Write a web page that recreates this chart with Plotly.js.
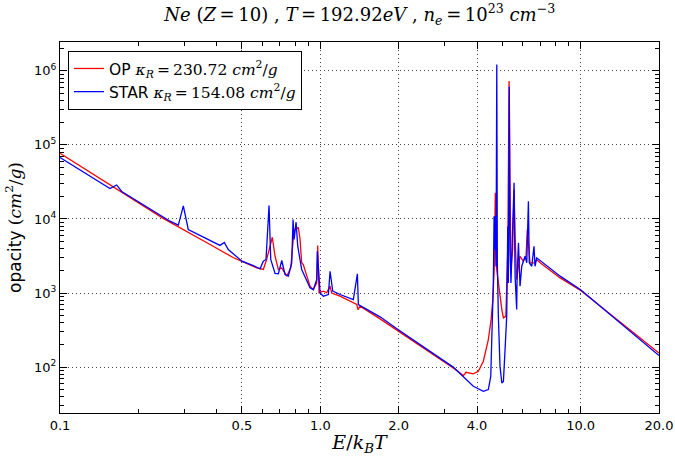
<!DOCTYPE html>
<html>
<head>
<meta charset="utf-8">
<script src="https://cdn.plot.ly/plotly-3.0.1.min.js"></script>
<style>html,body{margin:0;padding:0;background:#fff;}#chart{width:675px;height:461px;}</style>
</head>
<body>
<div id="chart"></div>
<script>
// OP opacity (cm^2/g) vs E/kT
const opE = [0.1,0.1556,0.249,0.377,0.462,0.500,0.570,0.604,0.622,0.654,0.670,0.690,0.711,0.743,0.770,0.783,0.793,0.807,0.823,0.836,0.848,0.860,0.887,0.913,0.940,0.969,0.977,0.989,1.027,1.058,1.090,1.106,1.190,1.380,1.396,1.421,1.696,2.0,3.24,3.543,3.628,3.87,4.046,4.229,4.42,4.53,4.60,4.66,4.70,4.745,4.83,4.98,5.05,5.16,5.25,5.31,5.355,5.40,5.48,5.55,5.60,5.68,5.765,5.85,6.02,6.17,6.24,6.30,6.39,6.68,6.78,6.99,8.34,10,20];
const opK = [77000,29200,10200,4520,3020,2670,2190,2080,2840,5670,3140,2080,2190,1690,2190,4290,7210,7200,7740,5280,2560,2430,1690,1240,1110,1370,4380,1010,1060,1010,1240,1000,906,700,598,663,448,305,97.5,76.8,85,81,87.7,120,235,438,817,2300,22600,2300,1370,598,462,485,3870,728000,30800,2080,3870,25000,5860,1520,2300,3140,2690,3140,7200,4520,2560,2560,2840,2560,1600,1080,155];
// STAR opacity
const starE = [0.1,0.1556,0.165,0.1726,0.2647,0.2848,0.2977,0.311,0.4118,0.4278,0.443,0.500,0.553,0.5867,0.604,0.6185,0.6353,0.645,0.670,0.690,0.711,0.7318,0.7537,0.7766,0.7857,0.793,0.807,0.819,0.848,0.913,0.940,0.969,0.974,0.998,1.027,1.074,1.090,1.116,1.19,1.339,1.388,1.40,1.696,2.0,3.24,3.87,4.229,4.42,4.516,4.556,4.62,4.65,4.68,4.70,4.733,4.763,4.786,4.83,4.90,4.98,5.05,5.125,5.20,5.25,5.275,5.32,5.355,5.40,5.55,5.60,5.68,5.70,5.77,5.85,5.94,6.115,6.21,6.30,6.35,6.49,6.62,6.68,6.78,8.34,10,20];
const starK = [67800,25800,28800,23500,9330,8250,15000,7210,4400,4810,3870,2690,2350,2120,2690,2840,15200,2840,1840,1820,2750,1780,1690,2560,9850,5280,9050,4290,2080,1180,1110,1520,3670,1000,906,955,1970,1060,955,817,1820,700,477,316,100,55,47,49.7,75,212,1370,10900,3870,10900,2300,1220000,2560,485,103,61,64,172,485,8000,1370,610000,3870,1370,30800,1690,598,1690,4770,1240,2300,3140,2560,17400,2560,2300,4290,2300,2990,1690,1110,143];
const xTickVals = [0.1,0.5,1,2,4,10,20];
const xTickText = ['0.1','0.5','1.0','2.0','4.0','10.0','20.0'];
const yTickVals = [1e2,1e3,1e4,1e5,1e6];
const yTickText = ['10<sup>2</sup>','10<sup>3</sup>','10<sup>4</sup>','10<sup>5</sup>','10<sup>6</sup>'];
const xMinor = [0.2,0.3,0.4,0.6,0.7,0.8,0.9,3,5,6,7,8,9];
const yMinor = [];
[10,100,1000,10000,100000,1000000].forEach(d=>{for(let k=2;k<=9;k++){yMinor.push(k*d);}});

const SERIF = 'DejaVu Serif';
const TS = '\u2009';
const mathSpan = s => '<span style="font-family:' + SERIF + '">' + s + '</span>';

const traces = [
  {x: opE, y: opK, type:'scatter', mode:'lines', name: 'OP ' + mathSpan('<i>κ<sub>R</sub></i>' + TS + '=' + TS + '230.72 <i>cm</i><sup>2</sup>/<i>g</i>'),
   line:{color:'#ff0000', width:1.3}},
  {x: starE, y: starK, type:'scatter', mode:'lines', name: 'STAR ' + mathSpan('<i>κ<sub>R</sub></i>' + TS + '=' + TS + '154.08 <i>cm</i><sup>2</sup>/<i>g</i>'),
   line:{color:'#0000ff', width:1.3}}
];

const axisCommon = {
  showline:true, linecolor:'#000', linewidth:1, mirror:'ticks',
  ticks:'inside', ticklen:7, tickcolor:'#000', tickwidth:1,
  showgrid:true, gridcolor:'#444', gridwidth:1, griddash:'1px,3px',
  zeroline:false,
  tickfont:{family:'DejaVu Sans', size:13, color:'#000'}
};

const layout = {
  width:675, height:461,
  margin:{l:60, r:16, t:42, b:48},
  paper_bgcolor:'#fff', plot_bgcolor:'#fff',
  showlegend:true, hovermode:false,
  title:{text:'<i>Ne</i> (<i>Z</i>' + TS + '=' + TS + '10) , <i>T</i>' + TS + '=' + TS + '192.92<i>eV</i> , <i>n<sub>e</sub></i>' + TS + '=' + TS + '10<sup>23</sup> <i>cm</i><sup>−3</sup>',
    font:{family:SERIF, size:18, color:'#000'}, x:0.533, xanchor:'center', y:0.968, yanchor:'middle'},
  xaxis: Object.assign({}, axisCommon, {
    type:'log', range:[-1, Math.log10(20)],
    tickmode:'array', tickvals:xTickVals, ticktext:xTickText,
    minor:{tickmode:'array', tickvals:xMinor, ticks:'inside', ticklen:4, tickcolor:'#000', showgrid:false},
    title:{text:'<i>E</i>/<i>k<sub>B</sub>T</i>', font:{family:SERIF, size:19, color:'#000'}, standoff:4}
  }),
  yaxis: Object.assign({}, axisCommon, {
    type:'log', range:[1.38, 6.39],
    tickmode:'array', tickvals:yTickVals, ticktext:yTickText,
    minor:{tickmode:'array', tickvals:yMinor, ticks:'inside', ticklen:4, tickcolor:'#000', showgrid:false},
    title:{text:'opacity ' + mathSpan('(<i>cm</i><sup>2</sup>/<i>g</i>)'), font:{family:'DejaVu Sans', size:17, color:'#000'}, standoff:8}
  }),
  legend:{x:0.0134, y:0.976, xanchor:'left', yanchor:'top', bgcolor:'#fff', bordercolor:'#000', borderwidth:1,
    itemwidth:30, tracegroupgap:0,
    font:{family:'DejaVu Sans', size:15.5, color:'#000'}}
};

Plotly.newPlot('chart', traces, layout, {displayModeBar:false, staticPlot:true});
</script>
</body>
</html>
